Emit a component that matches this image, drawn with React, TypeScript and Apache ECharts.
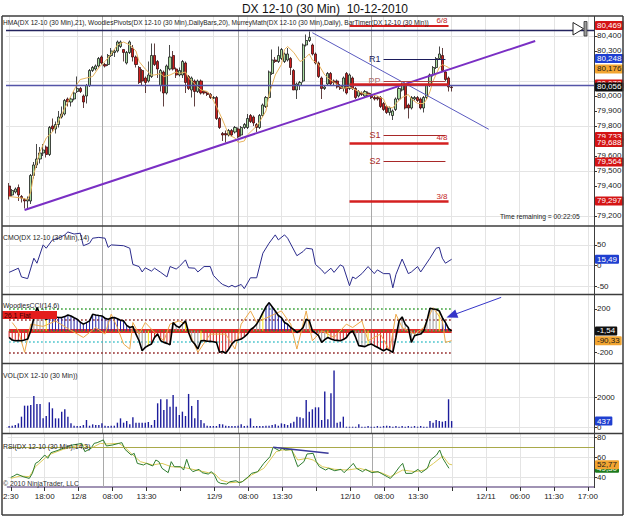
import React, { useEffect, useRef } from 'react';
import * as echarts from 'echarts';

const FONT = '"Liberation Sans", Arial, sans-serif';

// ---------- axis / time data ----------
const TITLE_TEXT = 'DX 12-10 (30 Min)  10-12-2010';
const SLOT_COUNT = 191;
const FIRST_BAR_SLOT = 1;
const LABEL_STEP = 11;
const TIME_LABELS = ['2:30', '18:00', '12/8', '08:00', '13:30', '', '12/9', '08:00', '13:30', '', '12/10', '08:00', '13:30', '', '12/11', '06:00', '11:30', '17:00'];
const DAY_BREAK_SLOTS = [31, 75, 118];

// ---------- price bars (slot 1..144) ----------
const OPEN = [
  79.40, 79.34, 79.36, 79.39, 79.33, 79.31, 79.30, 79.30, 79.47, 79.54,
  79.58, 79.62, 79.66, 79.61, 79.80, 79.78, 79.81, 79.86, 79.88, 79.98,
  79.96, 79.98, 80.03, 80.05, 80.00, 80.00, 80.07, 80.17, 80.18, 80.20,
  80.26, 80.21, 80.21, 80.27, 80.29, 80.30, 80.33, 80.31, 80.22, 80.29,
  80.32, 80.26, 80.19, 80.17, 80.12, 80.10, 80.13, 80.27, 80.23, 80.07,
  80.16, 80.02, 80.18, 80.27, 80.18, 80.14, 80.14, 80.22, 80.13, 80.04,
  80.10, 80.03, 80.10, 80.03, 80.02, 80.01, 79.985, 79.99, 79.85, 79.75,
  79.75, 79.74, 79.77, 79.76, 79.78, 79.74, 79.79, 79.79, 79.87, 79.86,
  79.81, 79.79, 79.87, 79.93, 79.99, 80.15, 80.24, 80.23, 80.25, 80.23,
  80.24, 80.25, 80.17, 80.04, 80.07, 80.10, 80.34, 80.37, 80.34, 80.28,
  80.22, 80.12, 80.05, 80.08, 80.15, 80.10, 80.10, 80.07, 80.05, 80.15,
  80.05, 80.12, 80.05, 80.00, 80.02, 80.00, 80.02, 80.01, 79.99, 79.99,
  79.99, 79.95, 79.93, 79.89, 79.87, 79.91, 79.98, 80.04, 80.08, 79.94,
  79.92, 79.98, 79.99, 79.98, 79.92, 79.99, 80.07, 80.14, 80.19, 80.25,
  80.27, 80.16, 80.12, 80.06,
];
const HIGH = [
  79.42, 79.38, 79.39, 79.41, 79.34, 79.32, 79.33, 79.48, 79.56, 79.68,
  79.66, 79.68, 79.67, 79.80, 79.85, 79.83, 79.90, 79.93, 79.98, 79.99,
  79.99, 80.03, 80.13, 80.06, 80.01, 80.08, 80.18, 80.20, 80.21, 80.26,
  80.27, 80.22, 80.28, 80.32, 80.31, 80.37, 80.37, 80.31, 80.30, 80.37,
  80.34, 80.27, 80.20, 80.18, 80.13, 80.23, 80.35, 80.35, 80.24, 80.18,
  80.17, 80.21, 80.34, 80.30, 80.19, 80.19, 80.24, 80.23, 80.14, 80.13,
  80.11, 80.11, 80.11, 80.04, 80.03, 80.02, 80.00, 80.00, 79.86, 79.76,
  79.77, 79.78, 79.78, 79.80, 79.79, 79.80, 79.82, 79.88, 79.88, 79.87,
  79.82, 79.88, 79.95, 80.00, 80.17, 80.31, 80.26, 80.33, 80.32, 80.29,
  80.32, 80.26, 80.18, 80.09, 80.10, 80.35, 80.41, 80.43, 80.35, 80.29,
  80.23, 80.13, 80.07, 80.16, 80.16, 80.11, 80.11, 80.08, 80.13, 80.16,
  80.15, 80.13, 80.06, 80.04, 80.03, 80.04, 80.03, 80.02, 80.00, 80.00,
  80.00, 79.96, 79.94, 79.93, 79.91, 79.99, 80.06, 80.09, 80.09, 79.95,
  80.00, 80.00, 80.00, 79.99, 80.00, 80.08, 80.15, 80.20, 80.26, 80.33,
  80.32, 80.17, 80.13, 80.07,
];
const LOW = [
  79.31, 79.33, 79.35, 79.30, 79.29, 79.25, 79.24, 79.28, 79.45, 79.52,
  79.55, 79.60, 79.59, 79.60, 79.76, 79.75, 79.79, 79.85, 79.87, 79.93,
  79.93, 79.97, 80.02, 80.02, 79.92, 79.95, 80.06, 80.16, 80.17, 80.19,
  80.21, 80.19, 80.20, 80.26, 80.26, 80.29, 80.32, 80.23, 80.21, 80.28,
  80.23, 80.19, 80.08, 80.07, 80.02, 80.09, 80.12, 80.20, 80.12, 80.03,
  79.93, 80.01, 80.17, 80.17, 80.12, 80.13, 80.12, 80.02, 80.04, 79.99,
  79.93, 80.02, 80.01, 80.01, 80.00, 79.98, 79.98, 79.84, 79.78, 79.70,
  79.69, 79.73, 79.73, 79.75, 79.72, 79.73, 79.78, 79.78, 79.82, 79.80,
  79.76, 79.78, 79.86, 79.92, 79.98, 80.14, 80.22, 80.22, 80.24, 80.22,
  80.23, 80.14, 80.04, 79.98, 80.04, 80.09, 80.33, 80.36, 80.27, 80.21,
  80.12, 79.98, 80.04, 80.07, 80.07, 80.07, 80.05, 80.04, 80.03, 80.01,
  80.04, 80.04, 79.98, 79.99, 80.00, 79.99, 80.00, 79.98, 79.97, 79.97,
  79.92, 79.90, 79.88, 79.87, 79.84, 79.90, 79.97, 80.03, 79.91, 79.85,
  79.91, 79.97, 79.96, 79.91, 79.89, 79.98, 80.06, 80.13, 80.18, 80.24,
  80.16, 80.10, 80.03, 80.03,
];
const CLOSE = [
  79.33, 79.37, 79.38, 79.34, 79.32, 79.30, 79.31, 79.47, 79.54, 79.58,
  79.62, 79.64, 79.61, 79.79, 79.78, 79.81, 79.86, 79.88, 79.97, 79.96,
  79.98, 80.02, 80.05, 80.03, 79.96, 80.07, 80.17, 80.19, 80.20, 80.25,
  80.22, 80.20, 80.27, 80.30, 80.30, 80.36, 80.36, 80.29, 80.29, 80.36,
  80.26, 80.21, 80.09, 80.10, 80.09, 80.14, 80.27, 80.21, 80.18, 80.17,
  80.02, 80.20, 80.26, 80.18, 80.14, 80.17, 80.23, 80.09, 80.05, 80.12,
  80.03, 80.10, 80.02, 80.02, 80.01, 79.99, 79.99, 79.85, 79.79, 79.74,
  79.74, 79.77, 79.74, 79.79, 79.73, 79.79, 79.81, 79.85, 79.83, 79.82,
  79.79, 79.87, 79.94, 79.99, 80.16, 80.24, 80.23, 80.27, 80.31, 80.28,
  80.28, 80.19, 80.04, 80.08, 80.09, 80.34, 80.37, 80.39, 80.28, 80.22,
  80.13, 80.05, 80.06, 80.15, 80.08, 80.09, 80.06, 80.05, 80.12, 80.02,
  80.14, 80.05, 79.99, 80.03, 80.01, 80.03, 80.01, 79.99, 79.98, 79.98,
  79.93, 79.91, 79.89, 79.92, 79.90, 79.98, 80.05, 80.08, 79.92, 79.92,
  79.99, 79.99, 79.97, 79.92, 79.99, 80.07, 80.14, 80.19, 80.25, 80.28,
  80.17, 80.11, 80.06, 80.056,
];
// HMA(21) read at slots: [slot, value]
const HMA = [
  [1, 79.33], [5, 79.32], [7, 79.31], [8, 79.36], [9, 79.48], [10, 79.56], [11, 79.63], [13, 79.72], [15, 79.76], [17, 79.83],
  [19, 79.92], [21, 80.0], [23, 80.08], [24, 80.11], [26, 80.12], [28, 80.13], [30, 80.19], [32, 80.23], [34, 80.28], [36, 80.34],
  [38, 80.36], [40, 80.34], [42, 80.30], [43, 80.23], [45, 80.18], [47, 80.14], [48, 80.14], [50, 80.15], [51, 80.13], [53, 80.14],
  [55, 80.16], [56, 80.15], [58, 80.16], [59, 80.12], [61, 80.08], [63, 80.04], [65, 80.03], [66, 80.01], [68, 79.93], [70, 79.84],
  [71, 79.79], [72, 79.74], [74, 79.72], [75, 79.69], [77, 79.70], [78, 79.74], [81, 79.80], [82, 79.83], [84, 79.90], [85, 80.01],
  [87, 80.14], [89, 80.21], [90, 80.31], [91, 80.33], [93, 80.29], [95, 80.23], [96, 80.24], [97, 80.26], [98, 80.28], [99, 80.24],
  [101, 80.21], [103, 80.14], [104, 80.12], [106, 80.09], [109, 80.05], [111, 80.06], [113, 80.04], [115, 80.02], [117, 80.01], [120, 80.00],
  [122, 79.98], [123, 79.93], [125, 79.92], [126, 79.95], [128, 79.99], [130, 80.01], [131, 79.98], [133, 79.95], [135, 79.95], [136, 79.98],
  [137, 80.03], [138, 80.10], [140, 80.19], [141, 80.21], [142, 80.20], [143, 80.19], [144, 80.176],
];

const PRICE_TICKS = [79.2, 79.3, 79.4, 79.5, 79.6, 79.7, 79.8, 79.9, 80.0, 80.1, 80.2, 80.3, 80.4];
// tick labels left visible (the others sit under the value tags in the reference)
const PRICE_LABELS = [79.2, 79.4, 79.5, 79.6, 79.8, 79.9, 80.0, 80.3, 80.4];
const PRICE_GRID = [79.2, 79.5, 79.8, 80.1, 80.4];
const TOP_HLINE = 80.44;
const MID_HLINE = 80.071;
const TREND_UP = [[6, 79.24], [171, 80.367]];
const TREND_DOWN = [[99, 80.422], [156, 79.778]];
const PIVOT_NAMES = ['R1', 'PP', 'S1', 'S2'];
const PIVOT_VALUES = [80.248, 80.10, 79.74, 79.564];
const PIVOT_SPAN = [122, 142];
const MURREY_NAMES = ['6/8', '5/8', '4/8', '3/8'];
const MURREY_VALUES = [80.469, 80.078, 79.688, 79.297];
const MURREY_SPAN = [111, 143];
const PRICE_TAG_VALUES = [80.469, 80.248, 80.176, 80.078, 80.056, 79.733, 79.688, 79.564, 79.297];
const PRICE_TAG_KINDS = ['red', 'blue', 'orange', 'red', 'black', 'red', 'red', 'red', 'red'];

// ---------- CMO ----------
const CMO = [
  [1, -16], [4, -6], [5, -27], [7, -31], [9, 18], [10, 6], [12, 50], [13, 42], [15, 62], [17, 66], [19, 74], [20, 81], [22, 76], [24, 78],
  [25, 48], [27, 54], [28, 66], [30, 68], [32, 66], [33, 44], [34, 50], [38, 48], [40, 42], [41, 3], [43, -2], [44, -15], [45, -5], [47, -13],
  [48, -6], [50, -16], [52, -27], [53, -2], [55, -8], [56, -2], [58, 14], [59, -5], [61, -6], [62, -15], [64, -2], [66, -2], [67, -23],
  [69, -39], [70, -45], [72, -51], [73, -47], [74, -51], [76, -45], [77, -55], [79, -29], [81, -29], [83, 30], [85, 54], [87, 74], [88, 62],
  [90, 74], [91, 66], [94, 24], [96, 34], [97, 42], [99, 40], [100, 3], [102, -10], [103, -19], [105, -6], [106, -16], [108, 2], [109, -2],
  [111, -48], [112, -27], [113, -31], [115, -19], [117, -2], [119, -19], [120, -10], [122, -19], [124, -19], [125, -53], [126, -21],
  [128, 16], [130, -19], [131, -15], [133, -2], [134, -15], [137, 18], [139, 42], [140, 44], [141, 18], [142, 6], [144, 15.49],
];
const CMO_TICKS = [-50, 0, 50];

// ---------- Woodies CCI ----------
const CCI = [
  -61, -85, -91, -90, -91, -85, -76, 0, 120, 212,
  150, 120, 106, 115, 125, 127, 122, 121, 130, 145,
  135, 120, 106, 80, 61, 75, 91, 151, 145, 140,
  136, 115, 106, 118, 121, 110, 97, 91, 50, 30,
  40, -30, -91, -182, -152, -135, -121, -60, -30, -91,
  -106, -115, -127, 76, 45, 30, 60, 91, -15, -91,
  -121, -167, -91, -90, -95, -97, -100, -106, -197, -190,
  -206, -167, -120, -91, -85, -76, -55, -30, 10, 30,
  61, 110, 167, 220, 258, 220, 182, 140, 121, 76,
  60, 30, 10, -15, 0, 30, 106, 91, 0, -20,
  -45, -106, -80, -61, -75, -85, -88, -91, -80, -61,
  -20, 0, -61, -136, -140, -145, -130, -121, -136, -150,
  -167, -182, -167, -180, -197, -61, 91, 127, 60, 30,
  -106, -45, -35, -30, 0, 91, 206, 200, 197, 182,
  120, 76, 20, -1.54,
];
const CCI_PRIOR_SIDE = -1; // trend already established before the first visible bar
const TURBO_CCI = [
  [2, 76], [4, 0], [6, -197], [8, 61], [12, 40], [16, 90], [20, 20], [25, -61], [29, 30], [32, -30], [34, 152], [36, 30], [38, -121],
  [40, -167], [41, 76], [43, -30], [45, 76], [48, -15], [51, -91], [53, 61], [56, 91], [58, 61], [62, -197], [66, -30], [71, -30],
  [74, -167], [76, 61], [79, 182], [81, 76], [89, 182], [92, 61], [94, -167], [97, 182], [99, -91], [102, 0], [106, -61], [110, 61],
  [112, 30], [115, 91], [117, -91], [121, -30], [124, -182], [126, 152], [128, 30], [132, -30], [135, 30], [138, 212], [141, 91],
  [142, -106], [144, -90.33],
];
const CCI_TICKS = [-200, 200];
const CCI_LEVELS = [200, 100, -100, -200];
const CCI_LEVEL_COLORS = ['#2c9a2c', '#8b1a1a', '#3cc0c8', '#8b1a1a'];
const CCI_ARROW = [[160, 306], [144, 140]];

// ---------- Volume ----------
const VOLUME = [
  110, 130, 175, 285, 725, 1450, 1450, 1495, 2090, 1560,
  1560, 615, 770, 1670, 1275, 615, 615, 1055, 1210, 725,
  285, 130, 110, 110, 175, 505, 130, 220, 175, 175,
  285, 130, 110, 130, 130, 330, 615, 330, 440, 220,
  680, 330, 330, 330, 330, 375, 175, 505, 1605, 1870,
  1165, 1870, 1385, 2155, 1385, 835, 1055, 770, 2220, 1430,
  615, 1825, 505, 285, 130, 110, 110, 110, 240, 220,
  130, 110, 110, 110, 130, 220, 110, 130, 615, 110,
  110, 110, 110, 130, 130, 175, 220, 130, 285, 240,
  175, 285, 395, 725, 680, 615, 1825, 1055, 1210, 1340,
  1340, 505, 2375, 550, 2265, 3760, 330, 395, 725, 65,
  65, 65, 65, 220, 65, 65, 110, 65, 65, 110,
  65, 110, 130, 110, 65, 110, 65, 110, 65, 110,
  65, 110, 65, 110, 65, 65, 440, 330, 505, 440,
  395, 440, 1870, 437,
];
const VOL_TICKS = [0, 2000];

// ---------- RSI ----------
const RSI = [
  [1, 40.3], [2, 41.7], [3, 43.6], [5, 41.0], [7, 39.3], [8, 44.3], [9, 54.2], [10, 55.9], [12, 62.5], [13, 59.2], [14, 64.8], [16, 66.8],
  [18, 69.1], [20, 71.4], [21, 72.4], [23, 73.4], [24, 74.0], [25, 65.8], [27, 69.1], [28, 74.0], [29, 74.7], [31, 77.4], [32, 71.4],
  [34, 72.4], [36, 74.0], [37, 74.7], [38, 68.1], [40, 62.5], [41, 64.1], [42, 54.2], [44, 52.6], [45, 54.2], [47, 51.6], [48, 57.5],
  [49, 55.9], [50, 49.3], [52, 45.0], [53, 55.9], [54, 50.9], [56, 50.9], [57, 47.6], [58, 58.2], [59, 49.3], [60, 46.0], [62, 48.3],
  [63, 45.0], [65, 43.6], [66, 46.0], [67, 42.6], [68, 36.0], [69, 34.4], [71, 33.7], [72, 36.0], [74, 37.0], [75, 35.0], [76, 36.0],
  [78, 41.0], [79, 44.3], [81, 45.9], [83, 54.2], [85, 60.8], [86, 70.1], [88, 66.8], [89, 69.1], [90, 67.4], [92, 68.1], [93, 59.2],
  [94, 50.9], [96, 55.9], [97, 63.5], [99, 64.1], [100, 55.9], [101, 50.9], [103, 47.6], [104, 49.3], [106, 46.9], [108, 48.3],
  [109, 45.0], [111, 50.9], [112, 54.2], [113, 49.3], [115, 46.0], [116, 48.3], [118, 45.0], [120, 46.0], [121, 44.3], [123, 41.0],
  [124, 39.3], [125, 42.6], [127, 50.9], [128, 54.2], [129, 44.3], [131, 44.3], [133, 48.3], [134, 45.0], [136, 49.3], [137, 57.5],
  [139, 62.5], [140, 67.4], [141, 59.2], [142, 54.2], [143, 49.3],
];
const RSI_AVG = [
  [1, 39.3], [4, 41.7], [7, 41.0], [9, 50.9], [12, 59.2], [14, 63.5], [18, 68.1], [22, 71.4], [25, 72.4], [27, 69.1], [30, 74.0],
  [32, 73.4], [36, 74.0], [38, 70.1], [40, 64.1], [43, 55.9], [47, 52.6], [50, 54.2], [53, 50.9], [57, 50.2], [61, 47.6], [65, 45.0],
  [67, 44.3], [69, 37.7], [72, 35.0], [76, 36.0], [79, 42.6], [83, 49.3], [85, 57.5], [87, 65.8], [89, 67.4], [92, 67.4], [94, 57.5],
  [97, 59.2], [99, 57.5], [102, 50.9], [106, 48.3], [110, 47.6], [114, 49.3], [117, 46.9], [121, 45.0], [124, 41.0], [128, 47.6],
  [132, 46.0], [135, 47.6], [138, 54.2], [141, 61.5], [143, 53.5], [144, 52.77],
];
const RSI_TICKS = [40, 60, 80];
const RSI_UPPER = 70;
const RSI_DIVERGENCE = [[86, 70.1], [104, 64.1]];

// ---------- helpers ----------
const isLabelSlot = (i: number) => i >= FIRST_BAR_SLOT && (i - FIRST_BAR_SLOT) % LABEL_STEP === 0;
const labelFor = (i: number) => (isLabelSlot(i) ? TIME_LABELS[(i - FIRST_BAR_SLOT) / LABEL_STEP] ?? '' : '');
const slotNames = Array.from({ length: SLOT_COUNT }, (_, i) => String(i));
const comma = (v: number, d: number) => v.toFixed(d).replace('.', ',');

const TAG_STYLES: Record<string, [string, string]> = {
  red: ['#d41414', '#ffffff'],
  blue: ['#1f3fd0', '#ffffff'],
  orange: ['#f2a531', '#1a1a1a'],
  black: ['#111111', '#ffffff'],
  green: ['#1c7a1c', '#ffffff'],
};

function tag(value: number, text: string, kind: string) {
  const [bg, fg] = TAG_STYLES[kind];
  return {
    yAxis: value,
    lineStyle: { color: 'rgba(0,0,0,0)', width: 0, type: 'solid' },
    label: {
      show: true, position: 'end', distance: 1, formatter: text, backgroundColor: bg, color: fg,
      fontSize: 8, fontFamily: FONT, padding: [1, 2, 0, 2], borderRadius: 1, opacity: 1,
    },
  };
}

function woodiesColors(values: number[]) {
  let side = CCI_PRIOR_SIDE;
  let streak = 6;
  return values.map((v) => {
    const s = v > 0 ? 1 : v < 0 ? -1 : 0;
    if (s !== 0 && s === side) streak += 1;
    else { side = s; streak = s === 0 ? 0 : 1; }
    if (streak >= 6) return side > 0 ? '#2626a8' : '#d82a2a';
    if (streak === 5) return '#f2e61e';
    return '#9c9c9c';
  });
}

function xAxis(gridIndex: number, showLabels: boolean) {
  return {
    type: 'category', gridIndex, data: slotNames, boundaryGap: false,
    axisLine: { show: showLabels, lineStyle: { color: '#a093b4', width: 2 } },
    axisTick: { show: showLabels, interval: (i: number) => isLabelSlot(i), length: 4, lineStyle: { color: '#333' } },
    axisLabel: {
      show: showLabels, interval: (i: number) => isLabelSlot(i), formatter: (v: string) => labelFor(Number(v)),
      fontSize: 8, color: '#222', fontFamily: FONT, margin: 5,
    },
    splitLine: { show: true, interval: (i: number) => isLabelSlot(i), lineStyle: { color: '#e4e4e4', width: 1 } },
  };
}

function yAxis(gridIndex: number, min: number, max: number, ticks: number[], labels: number[], fmt: (v: number) => string) {
  return {
    type: 'value', gridIndex, position: 'right', min, max,
    axisLine: { show: false },
    axisTick: { show: true, customValues: ticks, length: 3, lineStyle: { color: '#333' } },
    axisLabel: { show: true, customValues: labels, formatter: fmt, fontSize: 8, color: '#222', fontFamily: FONT, margin: 3 },
    splitLine: { show: false },
  };
}

const dayBreakLines = DAY_BREAK_SLOTS.map((s) => ({ xAxis: s }));
function gridLineSeries(xi: number, yi: number, levels: number[]) {
  return {
    type: 'line', xAxisIndex: xi, yAxisIndex: yi, data: [], silent: true,
    markLine: {
      silent: true, symbol: ['none', 'none'], z: 1, animation: false, label: { show: false },
      lineStyle: { color: '#e4e4e4', width: 1, type: 'solid' },
      data: [
        ...levels.map((v) => ({ yAxis: v })),
        ...dayBreakLines.map((d) => ({ ...d, lineStyle: { color: '#a9a9a9', width: 1, type: 'solid' } })),
      ],
    },
  };
}

function panelText(x: number, y: number, text: string, size = 8, scale = 0.86, fill = '#222') {
  return { type: 'text', x, y, scaleX: scale, z: 10, style: { text, fontSize: size, fontFamily: FONT, fill, verticalAlign: 'middle' } };
}
function hline(x1: number, x2: number, y: number, color: string, w: number) {
  return { type: 'line', z: 20, shape: { x1, y1: y, x2, y2: y }, style: { stroke: color, lineWidth: w } };
}
function vline(x: number, y1: number, y2: number, color: string, w: number) {
  return { type: 'line', z: 20, shape: { x1: x, y1, x2: x, y2 }, style: { stroke: color, lineWidth: w } };
}

export default function App() {
  const ref = useRef<HTMLDivElement>(null);

  useEffect(() => {
    if (!ref.current) return;
    const chart = echarts.init(ref.current, undefined, { renderer: 'svg' });

    const candleData = OPEN.map((o, i) => [i + FIRST_BAR_SLOT, o, CLOSE[i], LOW[i], HIGH[i]]);
    const cciColors = woodiesColors(CCI);
    const cciHist = CCI.map((v, i) => ({ value: [i + FIRST_BAR_SLOT, v], itemStyle: { color: cciColors[i] } }));
    const cciLine = CCI.map((v, i) => [i + FIRST_BAR_SLOT, v]);
    const volData = VOLUME.map((v, i) => [i + FIRST_BAR_SLOT, v]);
    const lastSlot = FIRST_BAR_SLOT + CCI.length - 1;

    const grids = [
      { left: 6, right: 31, top: 16, height: 210 },
      { left: 6, right: 31, top: 226, height: 68 },
      { left: 6, right: 31, top: 295, height: 68 },
      { left: 6, right: 31, top: 364, height: 69 },
      { left: 6, right: 31, top: 434, height: 53 },
    ];

    const priceSegments: any[] = [];
    priceSegments.push([
      { coord: TREND_UP[0], lineStyle: { color: '#7a2fc4', width: 2, type: 'solid' } },
      { coord: TREND_UP[1] },
    ]);
    priceSegments.push([
      { coord: TREND_DOWN[0], lineStyle: { color: '#5a5ac0', width: 1, type: 'solid' } },
      { coord: TREND_DOWN[1] },
    ]);
    MURREY_VALUES.forEach((v, i) => {
      priceSegments.push([
        {
          coord: [MURREY_SPAN[0], v],
          lineStyle: { color: '#d42020', width: i === 0 ? 2 : 2.5, type: 'solid' },
          label: {
            show: MURREY_NAMES[i] !== '5/8', position: 'insideEndTop', formatter: MURREY_NAMES[i], color: '#c41c1c',
            fontSize: 8, fontFamily: FONT, distance: 1,
          },
        },
        { coord: [MURREY_SPAN[1], v] },
      ]);
    });
    PIVOT_VALUES.forEach((v, i) => {
      const col = i === 0 ? '#1c1c5c' : i === 1 ? '#b04040' : '#a82828';
      priceSegments.push([
        {
          coord: [PIVOT_SPAN[0], v],
          lineStyle: { color: col, width: 1, type: 'solid' },
          label: {
            show: true, position: 'start', formatter: PIVOT_NAMES[i], color: i === 1 ? '#b07070' : col,
            fontSize: 9, fontFamily: FONT, distance: 3,
          },
        },
        { coord: [PIVOT_SPAN[1], v] },
      ]);
    });

    const option: any = {
      animation: false,
      backgroundColor: '#ffffff',
      grid: grids,
      xAxis: grids.map((_, i) => xAxis(i, i === 4)),
      yAxis: [
        yAxis(0, 79.1333, 80.5333, PRICE_TICKS, PRICE_LABELS, (v) => comma(v, 3)),
        yAxis(1, -67.9, 95.3, CMO_TICKS, CMO_TICKS, (v) => String(v)),
        yAxis(2, -294.7, 327.7, CCI_TICKS, CCI_TICKS, (v) => String(v)),
        yAxis(3, -349, 4190, VOL_TICKS, VOL_TICKS, (v) => String(v)),
        yAxis(4, 30.8, 83.27, RSI_TICKS, RSI_TICKS, (v) => String(v)),
      ],
      series: [
        gridLineSeries(0, 0, PRICE_GRID),
        {
          type: 'candlestick', xAxisIndex: 0, yAxisIndex: 0, data: candleData, encode: { x: 0, y: [1, 2, 3, 4] },
          barWidth: 2.6, z: 3,
          itemStyle: { color: '#a9dca0', color0: '#d01e1e', borderColor: '#1a1a1a', borderColor0: '#3a1010', borderWidth: 0.8 },
        },
        {
          type: 'line', xAxisIndex: 0, yAxisIndex: 0, data: HMA, symbol: 'none', z: 4,
          lineStyle: { color: '#e7b45e', width: 1 },
        },
        {
          type: 'line', xAxisIndex: 0, yAxisIndex: 0, data: [], silent: true,
          markLine: {
            silent: true, symbol: ['none', 'none'], z: 5, animation: false, label: { show: false },
            lineStyle: { type: 'solid' },
            data: [
              { yAxis: TOP_HLINE, lineStyle: { color: '#23235e', width: 1.3, type: 'solid' } },
              { yAxis: MID_HLINE, lineStyle: { color: '#5454a8', width: 1.3, type: 'solid' } },
              ...priceSegments,
            ],
          },
        },
        {
          type: 'line', xAxisIndex: 0, yAxisIndex: 0, data: [], silent: true,
          markLine: {
            silent: true, symbol: ['none', 'none'], z: 6, animation: false,
            data: PRICE_TAG_VALUES.map((v, i) => tag(v, comma(v, 3), PRICE_TAG_KINDS[i])),
          },
        },

        // CMO
        gridLineSeries(1, 1, CMO_TICKS),
        {
          type: 'line', xAxisIndex: 1, yAxisIndex: 1, data: CMO, symbol: 'none', z: 3,
          lineStyle: { color: '#2b2b8c', width: 1 },
          markLine: {
            silent: true, symbol: ['none', 'none'], z: 6, animation: false,
            data: [tag(15.49, '15,49', 'blue')],
          },
        },

        // CCI
        gridLineSeries(2, 2, []),
        {
          type: 'line', xAxisIndex: 2, yAxisIndex: 2, data: [], silent: true,
          markLine: {
            silent: true, symbol: ['none', 'none'], z: 2, animation: false, label: { show: false },
            data: [
              ...CCI_LEVELS.map((v, i) => [
                { coord: [FIRST_BAR_SLOT, v], lineStyle: { color: CCI_LEVEL_COLORS[i], width: 1.6, type: [1.6, 2.4] } },
                { coord: [lastSlot, v] },
              ]),
              [
                { coord: [FIRST_BAR_SLOT, 0], lineStyle: { color: '#e42a2a', width: 4, type: 'solid' } },
                { coord: [lastSlot, 0] },
              ],
              [
                { coord: [FIRST_BAR_SLOT, 0], lineStyle: { color: '#2aa02a', width: 1.6, type: [1.6, 2.4] } },
                { coord: [lastSlot, 0] },
              ],
            ],
          },
        },
        {
          type: 'bar', xAxisIndex: 2, yAxisIndex: 2, data: cciHist, barWidth: 1, z: 3,
        },
        {
          type: 'line', xAxisIndex: 2, yAxisIndex: 2, data: TURBO_CCI, symbol: 'none', z: 4,
          lineStyle: { color: '#eda94a', width: 1 },
        },
        {
          type: 'line', xAxisIndex: 2, yAxisIndex: 2, data: cciLine, symbol: 'none', z: 5,
          lineStyle: { color: '#000000', width: 1.6 },
          markLine: {
            silent: true, symbol: ['none', 'none'], z: 6, animation: false,
            data: [
              tag(-90.33, '-90,33', 'orange'),
              tag(-1.54, '-1,54', 'black'),
              [
                { coord: CCI_ARROW[0], symbol: 'none', lineStyle: { color: '#3535c8', width: 1, type: 'solid' }, label: { show: false } },
                { coord: CCI_ARROW[1], symbol: 'triangle', symbolSize: [9, 11] },
              ],
            ],
          },
        },

        // Volume
        gridLineSeries(3, 3, VOL_TICKS),
        {
          type: 'bar', xAxisIndex: 3, yAxisIndex: 3, data: volData, barWidth: 1.4, z: 3,
          itemStyle: { color: '#1d1d9c' },
          markLine: {
            silent: true, symbol: ['none', 'none'], z: 6, animation: false,
            data: [tag(437, '437', 'blue')],
          },
        },

        // RSI
        gridLineSeries(4, 4, RSI_TICKS),
        {
          type: 'line', xAxisIndex: 4, yAxisIndex: 4, data: RSI_AVG, symbol: 'none', z: 3,
          lineStyle: { color: '#dcca58', width: 1 },
        },
        {
          type: 'line', xAxisIndex: 4, yAxisIndex: 4, data: RSI, symbol: 'none', z: 4,
          lineStyle: { color: '#2f7d2f', width: 1 },
          markLine: {
            silent: true, symbol: ['none', 'none'], z: 6, animation: false,
            data: [
              { yAxis: RSI_UPPER, lineStyle: { color: '#a9a94a', width: 1.2, type: 'solid' }, label: { show: false } },
              [
                { coord: RSI_DIVERGENCE[0], lineStyle: { color: '#3a3a9a', width: 1.5, type: 'solid' }, label: { show: false } },
                { coord: RSI_DIVERGENCE[1] },
              ],
              tag(49.3, '49,30', 'green'),
              tag(52.77, '52,77', 'orange'),
            ],
          },
        },
      ],
      graphic: [
        {
          type: 'text', x: 325, y: 9, z: 10,
          style: { text: TITLE_TEXT, fontSize: 12, fontFamily: FONT, fill: '#111', align: 'center', verticalAlign: 'middle' },
        },
        panelText(3, 22.5, 'HMA(DX 12-10 (30 Min),21), WoodiesPivots(DX 12-10 (30 Min),DailyBars,20), MurreyMath(DX 12-10 (30 Min),Daily), BarTimer(DX 12-10 (30 Min))', 8, 0.82),
        panelText(500, 216, 'Time remaining = 00:22:05', 8, 0.84),
        panelText(3, 237, 'CMO(DX 12-10 (30 Min),14)', 8, 0.86),
        panelText(3, 305.5, 'WoodiesCCI(14,6)', 8, 0.86),
        { type: 'rect', z: 10, shape: { x: 2, y: 311, width: 55, height: 8 }, style: { fill: '#e41c1c' } },
        panelText(4, 315.2, '26.1 Flat', 8, 0.86, '#3a0000'),
        panelText(3, 375.5, 'VOL(DX 12-10 (30 Min))', 8, 0.86),
        panelText(3, 446, 'RSI(DX 12-10 (30 Min),14,3)', 8, 0.86),
        panelText(3, 483.5, '\u00a9 2010 NinjaTrader, LLC', 8, 0.86, '#333'),
        { type: 'polygon', z: 21, shape: { points: [[573, 22.5], [573, 35], [583.5, 28.7]] }, style: { fill: '#ffffff', stroke: '#222', lineWidth: 1 } },
        { type: 'rect', z: 21, shape: { x: 584, y: 21.5, width: 3, height: 14.5 }, style: { fill: '#9a9a9a', stroke: '#333', lineWidth: 0.8 } },
        hline(2, 623, 16, '#3c3c3c', 1.5),
        hline(2, 623, 226, '#3c3c3c', 1.5),
        hline(2, 623, 294.5, '#3c3c3c', 1.5),
        hline(2, 623, 363.5, '#3c3c3c', 1.5),
        hline(2, 623, 433.5, '#3c3c3c', 1.5),
        hline(2, 623, 515, '#3c3c3c', 1.5),
        vline(2, 16, 515, '#3c3c3c', 1.5),
        vline(623, 16, 515, '#3c3c3c', 1.5),
        vline(594.5, 16, 488, '#3c3c3c', 1),
      ],
    };

    chart.setOption(option);
    return () => chart.dispose();
  }, []);

  return <div ref={ref} style={{ position: 'fixed', left: 0, top: 0, width: 625, height: 517, background: '#fff' }} />;
}
